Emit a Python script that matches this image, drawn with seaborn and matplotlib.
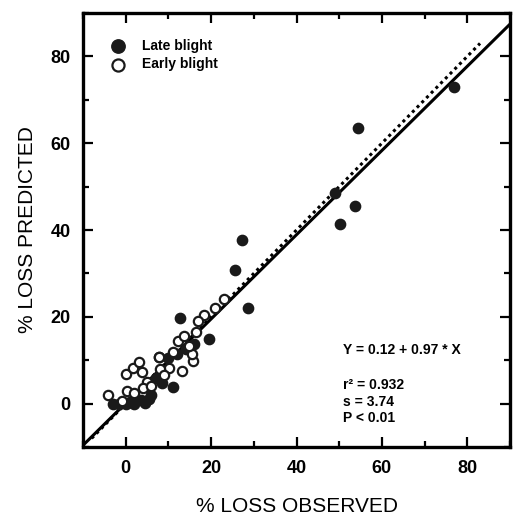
import numpy as np
import pandas as pd
import matplotlib.pyplot as plt
import seaborn as sns
from matplotlib.ticker import MultipleLocator

# late blight (filled markers)
late_obs = [77, 54.5, 49, 53.7, 50.2, 27.2, 25.7, 28.6, 12.6, 19.5, 11.1, 8.5,
            -3, -1.5, 0, 1, 2, 3.5, 4.5, 5.5, 6, 10, 14, 16, 12, 7, 7.8]
late_pred = [73, 63.6, 48.5, 45.5, 41.4, 37.7, 30.8, 22, 19.7, 14.9, 3.8, 4.8,
             0, 0, 0, 0.3, 0, 0.8, 0.2, 1, 2, 10.5, 12.5, 13.8, 11.5, 6, 10.7]

# early blight (open markers)
early_obs = [-4.1, 0, 1.6, 3.1, 7.8, 3.9, 13.2, 15.7, 15.6, 12.3, 14.8, 13.6, 10.1,
             0.4, 18.3, 23, 21, 16.5, 5, 2, 8, 11, 9, 4, 6, -1, 17]
early_pred = [2, 6.8, 8.1, 9.6, 10.8, 7.3, 7.6, 9.8, 11.4, 14.4, 13.3, 15.5, 8.3,
              3, 20.5, 24, 22, 16.5, 5, 2.5, 8, 12, 6.5, 3.5, 4, 0.5, 19]

intercept = 0.12
slope = 0.97
fit_x = [-10, 90]
one_to_one = [-8, 83]

sns.set_style("ticks")
plt.rcParams['font.family'] = ['Liberation Sans', 'DejaVu Sans']
plt.rcParams['text.color'] = 'black'
plt.rcParams['axes.labelcolor'] = 'black'
plt.rcParams['xtick.color'] = 'black'
plt.rcParams['ytick.color'] = 'black'

fig = plt.figure(figsize=(5.13, 5.21), dpi=100)
ax = fig.add_axes([0.162, 0.142, 0.832, 0.833])

late = pd.DataFrame({'obs': late_obs, 'pred': late_pred})
early = pd.DataFrame({'obs': early_obs, 'pred': early_pred})

fit = pd.DataFrame({'x': fit_x, 'y': [intercept + slope * v for v in fit_x]})
ax.plot(one_to_one, one_to_one, color='black', lw=2.2, linestyle=(0, (1, 1.2)), zorder=2)
sns.lineplot(data=fit, x='x', y='y', color='black', lw=2.2, ax=ax, zorder=2)

sns.scatterplot(data=late, x='obs', y='pred', ax=ax, s=55, color='#1a1a1a',
                edgecolor='#1a1a1a', linewidth=1, label='Late blight', zorder=3)
sns.scatterplot(data=early, x='obs', y='pred', ax=ax, s=45, facecolor='white',
                edgecolor='#1a1a1a', linewidth=1.6, label='Early blight', zorder=3)

ax.set_xlim(-10, 90)
ax.set_ylim(-10, 90)
ax.xaxis.set_major_locator(MultipleLocator(20))
ax.yaxis.set_major_locator(MultipleLocator(20))
ax.xaxis.set_minor_locator(MultipleLocator(10))
ax.yaxis.set_minor_locator(MultipleLocator(10))
ax.tick_params(which='both', direction='in', top=True, right=True, width=1.6)
ax.tick_params(which='major', length=7, labelsize=13, pad=9)
ax.tick_params(which='minor', length=4)
for lab in ax.get_xticklabels() + ax.get_yticklabels():
    lab.set_fontweight('bold')
for sp in ax.spines.values():
    sp.set_linewidth(2.4)
    sp.set_color('black')
    sp.set_visible(True)

ax.set_xlabel('% LOSS OBSERVED', fontsize=15, labelpad=15)
ax.set_ylabel('% LOSS PREDICTED', fontsize=15, labelpad=10)

leg = ax.legend(loc='upper left', bbox_to_anchor=(0.02, 0.97), frameon=False,
                prop={'weight': 'bold', 'size': 10}, markerscale=1.3,
                handletextpad=0.7, labelspacing=0.35)

stats = ['Y = 0.12 + 0.97 * X', 'r\u00b2 = 0.932', 's = 3.74', 'P < 0.01']
ypos = [0.224, 0.143, 0.104, 0.066]
for txt, yy in zip(stats, ypos):
    ax.text(0.61, yy, txt, transform=ax.transAxes, fontsize=10,
            fontweight='bold', va='center')

fig.savefig('out.png', dpi=100)
